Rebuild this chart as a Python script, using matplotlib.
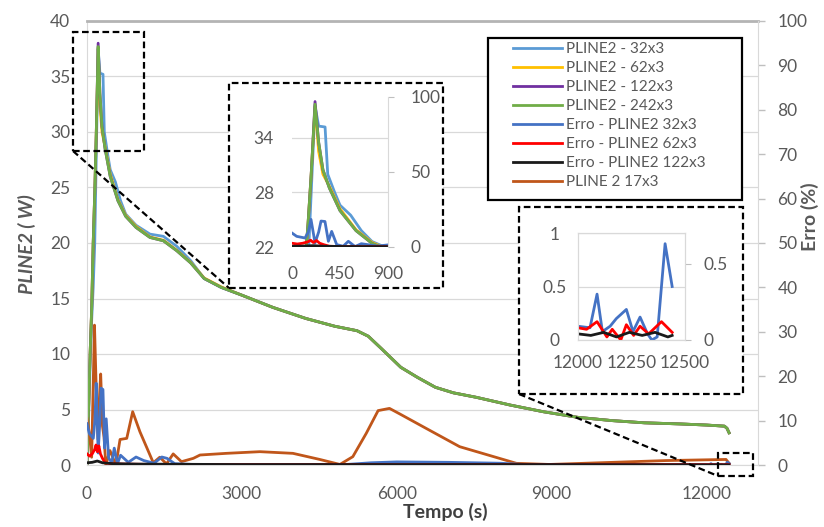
import matplotlib
matplotlib.use('Agg')
import matplotlib.pyplot as plt
from matplotlib.patches import Rectangle
from matplotlib.lines import Line2D

plt.rcParams['font.family'] = ['Lato', 'DejaVu Sans']

# ---- data (tempo in s, PLINE2 in W, erro in %) ----
t_pline = [0, 30, 60, 90, 120, 150, 180, 216, 250, 290, 350, 450, 600, 750, 950,
           1220, 1480, 1740, 2010, 2270, 2600, 3000, 3600, 4240, 4800, 5230, 5450, 5700,
           6080, 6400, 6750, 7100, 7540, 8200, 8840, 9500, 10170, 10800, 11490,
           12000, 12350, 12400, 12440]
pline_62 = [0, 5, 10, 14, 20, 24.5, 30, 37.5, 32.5, 30.0, 28.7, 26.2, 23.9, 22.5, 21.5,
            20.55, 20.25, 19.35, 18.25, 16.85, 16.05, 15.3, 14.2, 13.2, 12.5, 12.1, 11.6, 10.5,
            8.8, 7.9, 7.0, 6.5, 6.1, 5.4, 4.8, 4.3, 4.0, 3.8, 3.7, 3.6, 3.5, 3.3, 2.9]
pline_122 = [0, 5, 10, 14, 20, 24.5, 30, 38.0, 33.5, 30.5, 28.5, 26, 23.8, 22.4, 21.4,
             20.5, 20.2, 19.3, 18.2, 16.8, 16, 15.3, 14.2, 13.2, 12.5, 12.1, 11.6, 10.5,
             8.8, 7.9, 7.0, 6.5, 6.1, 5.4, 4.8, 4.3, 4.0, 3.8, 3.7, 3.6, 3.5, 3.3, 2.9]
pline_242 = [0, 5, 10, 14, 20, 24.5, 30, 37.7, 33.5, 30.5, 28.5, 26, 23.8, 22.4, 21.4,
             20.5, 20.2, 19.3, 18.2, 16.8, 16, 15.3, 14.2, 13.2, 12.5, 12.1, 11.6, 10.5,
             8.8, 7.9, 7.0, 6.5, 6.1, 5.4, 4.8, 4.3, 4.0, 3.8, 3.7, 3.6, 3.5, 3.3, 2.9]

t_32 = [0, 30, 60, 90, 120, 150, 180, 216, 250, 310, 335, 400, 450, 550, 650, 750, 950,
        1220, 1480, 1740, 2010, 2270, 2600, 3000, 3600, 4240, 4800, 5230, 5450, 5700,
        6080, 6400, 6750, 7100, 7540, 8200, 8840, 9500, 10170, 10800, 11490,
        12000, 12350, 12400, 12440]
pline_32 = [0, 4, 9, 13, 16, 20, 28, 37.5, 35.3, 35.2, 30.0, 28.0, 26.6, 25.5, 23.8, 22.6, 21.6,
            20.8, 20.6, 19.7, 18.4, 16.8, 16, 15.3, 14.2, 13.2, 12.5, 12.1, 11.6, 10.5,
            8.8, 7.9, 7.0, 6.5, 6.1, 5.4, 4.8, 4.3, 4.0, 3.8, 3.7, 3.6, 3.5, 3.3, 2.9]

t_17 = [0, 45, 90, 145, 175, 213, 240, 265, 300, 330, 365, 445, 560, 640, 770, 885, 1025,
        1155, 1285, 1410, 1540, 1670, 1830, 2060, 2190, 2700, 3350, 3990, 4510, 4900,
        5150, 5410, 5640, 5860, 6060, 6570, 7220, 7990, 8320, 8960, 9930, 11220, 12380, 12440]
pline_17 = [4.2, 2.9, 0.7, 12.6, 7.5, 2.3, 6.0, 8.2, 3.5, 2.5, 0.0, 1.3, 0.0, 2.3, 2.4, 4.8, 3.0,
            1.6, 0.2, 0.7, 0.1, 1.0, 0.3, 0.6, 0.9, 1.05, 1.2, 1.05, 0.5, 0.05,
            0.75, 2.85, 4.9, 5.1, 4.6, 3.3, 1.65, 0.6, 0.15, 0.05, 0.2, 0.4, 0.5, 0.15]

t_e32 = [0, 44, 122, 153, 178, 216, 250, 272, 309, 341, 372, 419, 480, 528, 591, 650, 800,
         950, 1100, 1300, 1450, 1550, 1700, 1900, 2100, 3000, 4000, 5000, 5500, 6000, 7000,
         8000, 8500, 10000, 11500, 12000, 12056, 12089, 12114, 12150, 12179, 12226, 12257,
         12290, 12325, 12345, 12370, 12407, 12440]
erro_32 = [9.3, 7.1, 6.0, 10.0, 18.4, 2.7, 10.0, 17.3, 17.0, 3.8, 10.4, 1.6, 0.5, 3.8, 0.3, 2.2, 0.6,
           1.8, 1.0, 0.4, 1.8, 1.5, 0.3, 0.2, 0.1, 0.1, 0.1, 0.1, 0.5, 0.7, 0.6,
           0.4, 0.1, 0.1, 0.1, 0.09, 0.08, 0.30, 0.055, 0.09, 0.14, 0.20, 0.055,
           0.15, 0.04, 0.0, 0.02, 0.63, 0.35]

t_e62 = [0, 50, 100, 150, 175, 200, 230, 260, 300, 350, 450, 700, 1500, 3000, 6000, 9000,
         12000, 12040, 12089, 12135, 12160, 12200, 12226, 12260, 12290, 12330, 12390, 12440]
erro_62 = [2.5, 2.0, 2.5, 3.5, 4.5, 3.0, 4.3, 2.5, 1.5, 0.5, 0.3, 0.2, 0.1, 0.1, 0.1, 0.1,
           0.08, 0.07, 0.12, 0.02, 0.07, 0.0, 0.10, 0.03, 0.09, 0.04, 0.12, 0.05]

t_e122 = [0, 100, 200, 300, 500, 1000, 3000, 6000, 9000, 12000, 12060, 12120, 12180,
          12240, 12300, 12360, 12420, 12440]
erro_122 = [0.5, 0.6, 0.9, 0.5, 0.3, 0.2, 0.1, 0.1, 0.1, 0.04, 0.03, 0.05, 0.02,
            0.05, 0.03, 0.05, 0.02, 0.03]

labels = ["PLINE2 - 32x3", "PLINE2 - 62x3", "PLINE2 - 122x3", "PLINE2 - 242x3",
          "Erro - PLINE2 32x3", "Erro - PLINE2 62x3", "Erro - PLINE2 122x3", "PLINE 2 17x3"]
colors = ["#5B9BD5", "#FFC000", "#7030A0", "#70AD47",
          "#4472C4", "#FF0000", "#1A1A1A", "#C0561A"]

W, H = 824, 527
def fx(x): return x / W
def fy(y): return 1 - y / H
def box(x0, y0, x1, y1): return [fx(x0), fy(y1), (x1 - x0) / W, (y1 - y0) / H]

tick_col = '#595959'
grid_col = '#D9D9D9'
dash = (0, (3, 1.6))
lw = 2

fig = plt.figure(figsize=(8.24, 5.27), dpi=100)

def plot_power(a):
    a.plot(t_32, pline_32, color=colors[0], lw=lw)
    a.plot(t_pline, pline_62, color=colors[1], lw=lw)
    a.plot(t_pline, pline_122, color=colors[2], lw=lw)
    a.plot(t_pline, pline_242, color=colors[3], lw=lw)

def plot_erro(a):
    a.plot(t_e32, erro_32, color=colors[4], lw=lw)
    a.plot(t_e62, erro_62, color=colors[5], lw=lw)
    a.plot(t_e122, erro_122, color=colors[6], lw=lw)

# ---- main chart ----
ax = fig.add_axes(box(87, 21, 758, 465))
ax2 = ax.twinx()
plot_power(ax)
ax.plot(t_17, pline_17, color=colors[7], lw=lw)
plot_erro(ax2)

ax.set_xlim(0, 13000)
ax.set_ylim(0, 40)
ax.set_xticks([0, 3000, 6000, 9000, 12000])
ax.set_yticks(range(0, 41, 5))
ax.grid(axis='y', color=grid_col, lw=0.9)
ax.set_axisbelow(True)
ax2.set_ylim(0, 100)
ax2.set_yticks(range(0, 101, 10))
ax.tick_params(axis='x', length=0, pad=15, labelsize=12.5, labelcolor=tick_col)
ax.tick_params(axis='y', length=0, pad=12, labelsize=12.5, labelcolor=tick_col)
ax2.tick_params(axis='y', length=5, width=1, color='#BFBFBF', pad=9, labelsize=12.5,
                labelcolor=tick_col)
for s in ['left', 'bottom']:
    ax.spines[s].set_color(grid_col)
ax.spines['top'].set_color('#B4B4B4')
ax.spines['top'].set_linewidth(2)
ax.spines['right'].set_visible(False)
for s in ['left', 'bottom', 'top']:
    ax2.spines[s].set_visible(False)
ax2.spines['right'].set_color(grid_col)

fig.text(fx(445), fy(512), "Tempo (s)", ha='center', va='center', fontsize=14,
         fontweight='bold', color='#404040')
fig.text(fx(27), fy(244), "PLINE2 ( W)", ha='center', va='center', rotation=90,
         fontsize=14, fontweight='bold', style='italic', color=tick_col)
fig.text(fx(810), fy(217), "Erro (%)", ha='center', va='center', rotation=90,
         fontsize=14, fontweight='bold', color=tick_col)

# ---- zoom boxes, connectors, inset frames ----
def dashed_rect(x0, y0, x1, y1, fill, z):
    fig.add_artist(Rectangle((fx(x0), fy(y1)), (x1 - x0) / W, (y1 - y0) / H,
                             transform=fig.transFigure, facecolor='white' if fill else 'none',
                             edgecolor='black', lw=1.6, ls=dash, zorder=z))

def dashed_line(x0, y0, x1, y1):
    fig.add_artist(Line2D([fx(x0), fx(x1)], [fy(y0), fy(y1)], transform=fig.transFigure,
                          color='black', lw=1.6, ls=dash, zorder=5))

dashed_rect(73, 32, 144, 151, False, 5)
dashed_rect(718, 453, 753, 476, False, 5)
dashed_line(73, 151, 229, 288)
dashed_line(519, 394, 718, 476)
dashed_rect(229, 83, 443, 288, True, 5)
dashed_rect(519, 207, 743, 394, True, 5)

# legend
fig.add_artist(Rectangle((fx(488), fy(200)), (742 - 488) / W, (200 - 38) / H,
                         transform=fig.transFigure, facecolor='white', edgecolor='black',
                         lw=1.6, zorder=5))
handles = [Line2D([], [], color=c, lw=lw) for c in colors]
leg = fig.legend(handles, labels, loc='upper left', bbox_to_anchor=(fx(513), fy(42)),
                 frameon=False, fontsize=11, handlelength=3.2, handletextpad=0.3,
                 labelspacing=0.33, borderpad=0, borderaxespad=0)
leg.set_zorder(6)
for txt in leg.get_texts():
    txt.set_color(tick_col)

# ---- inset 1: start of the run ----
in1 = fig.add_axes(box(292, 97, 388, 247))
in1.set_zorder(7)
in1b = in1.twinx()
in1b.set_zorder(8)
in1b.patch.set_visible(False)
plot_power(in1)
plot_erro(in1b)
in1.set_xlim(0, 900)
in1.set_xticks([0, 450, 900])
in1.set_ylim(22, 38.5)
in1.set_yticks([22, 28, 34])
in1.grid(axis='y', color=grid_col, lw=0.9)
in1.set_axisbelow(True)
in1b.set_ylim(0, 100)
in1b.set_yticks([0, 50, 100])
in1.tick_params(axis='x', length=0, pad=14, labelsize=12.5, labelcolor=tick_col)
in1.tick_params(axis='y', length=0, pad=13, labelsize=12.5, labelcolor=tick_col)
in1b.tick_params(axis='y', length=4, color='#BFBFBF', pad=12, labelsize=12.5,
                 labelcolor=tick_col)
for a in (in1, in1b):
    for s in ['left', 'bottom', 'top', 'right']:
        a.spines[s].set_visible(False)
in1b.spines['right'].set_visible(True)
in1b.spines['right'].set_color(grid_col)

# ---- inset 2: end of the run ----
in2 = fig.add_axes(box(578, 233, 685, 340))
in2.set_zorder(7)
in2b = in2.twinx()
in2b.set_zorder(8)
in2b.patch.set_visible(False)
plot_power(in2)
plot_erro(in2b)
in2.set_xlim(12000, 12500)
in2.set_xticks([12000, 12250, 12500])
in2.set_ylim(0, 1)
in2.set_yticks([0, 0.5, 1])
in2.set_yticklabels(['0', '0.5', '1'])
in2.grid(axis='y', color=grid_col, lw=0.9)
in2.set_axisbelow(True)
in2b.set_ylim(0, 0.7)
in2b.set_yticks([0, 0.5])
in2b.set_yticklabels(['0', '0.5'])
in2.tick_params(axis='x', length=0, pad=11, labelsize=12.5, labelcolor=tick_col)
in2.tick_params(axis='y', length=0, pad=17, labelsize=12.5, labelcolor=tick_col)
for lbl in in2.get_yticklabels():
    lbl.set_ha('center')
in2b.tick_params(axis='y', length=4, color='#BFBFBF', pad=9, labelsize=12.5,
                 labelcolor=tick_col)
for s in ['left', 'bottom', 'top', 'right']:
    in2.spines[s].set_color(grid_col)
    in2b.spines[s].set_color(grid_col)

fig.savefig("out.png", dpi=100)
